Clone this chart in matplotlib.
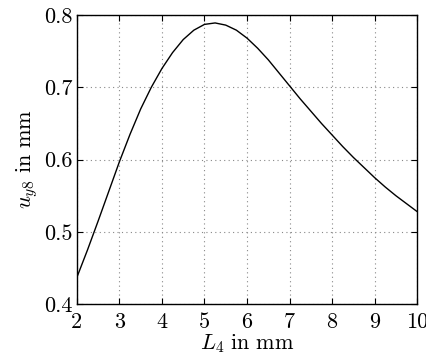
import matplotlib
matplotlib.use("Agg")
import matplotlib.pyplot as plt

L4 = [2.0, 2.25, 2.5, 2.75, 3.0, 3.25, 3.5, 3.75, 4.0, 4.25, 4.5, 4.75, 5.0,
      5.25, 5.5, 5.75, 6.0, 6.25, 6.5, 6.75, 7.0, 7.25, 7.5, 7.75, 8.0, 8.25,
      8.5, 8.75, 9.0, 9.25, 9.5, 9.75, 10.0]
uy8 = [0.437, 0.475, 0.515, 0.556, 0.597, 0.635, 0.670, 0.700, 0.726, 0.748,
       0.766, 0.779, 0.787, 0.789, 0.786, 0.779, 0.768, 0.754, 0.738, 0.720,
       0.702, 0.684, 0.667, 0.650, 0.634, 0.618, 0.603, 0.589, 0.575, 0.562,
       0.550, 0.539, 0.528]
xticks = [2, 3, 4, 5, 6, 7, 8, 9, 10]
yticks = [0.4, 0.5, 0.6, 0.7, 0.8]
xticklabels = ["2", "3", "4", "5", "6", "7", "8", "9", "10"]
yticklabels = ["0.4", "0.5", "0.6", "0.7", "0.8"]

plt.rcParams["font.family"] = "cmr10"
plt.rcParams["mathtext.fontset"] = "cm"
plt.rcParams["axes.formatter.use_mathtext"] = True

fig = plt.figure(figsize=(4.27, 3.57), dpi=100)
ax = fig.add_axes([0.180, 0.148, 0.797, 0.810])
ax.plot(L4, uy8, color="black", linewidth=1.0)
ax.set_xlim(2, 10)
ax.set_ylim(0.4, 0.8)
ax.set_xticks(xticks)
ax.set_xticklabels(xticklabels)
ax.set_yticks(yticks)
ax.set_yticklabels(yticklabels)
ax.grid(True, linestyle=(0, (1, 3)), color="#888888", linewidth=0.8)
ax.tick_params(direction="in", top=True, right=True, length=4, width=0.8,
               labelsize=16)
ax.tick_params(axis="x", pad=6)
ax.tick_params(axis="y", pad=3)
for s in ax.spines.values():
    s.set_linewidth(1.0)
ax.set_xlabel(r"$L_4\ \mathrm{in\ mm}$", fontsize=16, labelpad=0)
ax.set_ylabel(r"$u_{y8}\ \mathrm{in\ mm}$", fontsize=16, labelpad=3)
fig.savefig("out.png", dpi=100)
